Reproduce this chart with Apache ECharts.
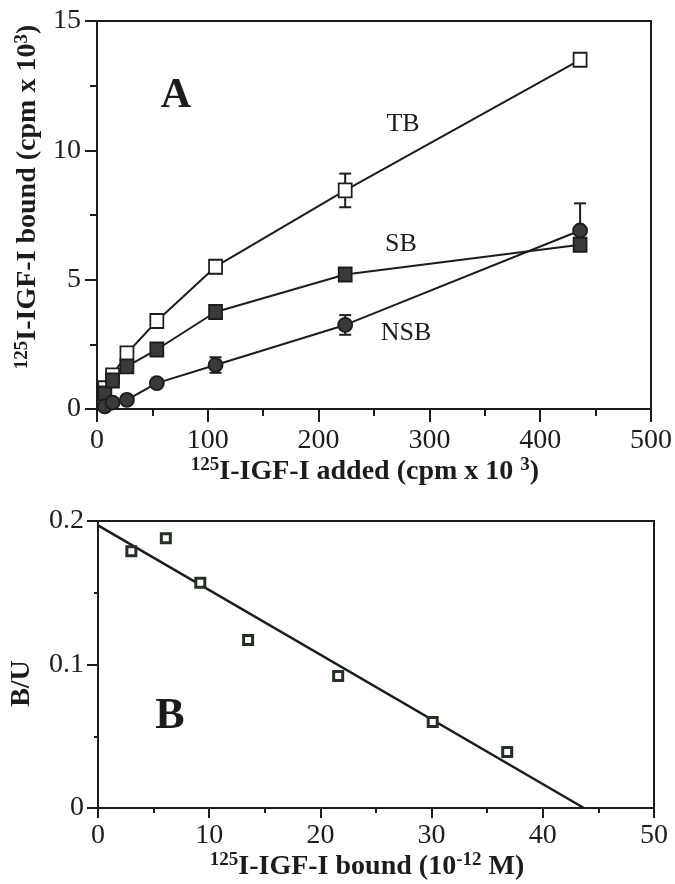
<!DOCTYPE html>
<html>
<head>
<meta charset="utf-8">
<script src="https://cdn.jsdelivr.net/npm/echarts@6/dist/echarts.min.js"></script>
<style>
  html, body { margin: 0; padding: 0; background: #fff; }
  #chart { width: 675px; height: 884px; }
</style>
</head>
<body>
<div id="chart"></div>
<script>
// Panel A: binding vs amount added
const addedX = [7, 14, 27, 54, 107, 224, 436];
const tbBound = [0.8, 1.3, 2.15, 3.4, 5.5, 8.45, 13.5];
const sbBound = [0.6, 1.1, 1.65, 2.3, 3.75, 5.2, 6.35];
const nsbBound = [0.1, 0.25, 0.35, 1.0, 1.7, 3.25, 6.9];
const tbErr = [0, 0, 0, 0, 0, 0.65, 0];
const nsbErrUp = [0, 0, 0, 0, 0.3, 0.38, 1.05];
const nsbErrDown = [0, 0, 0, 0, 0.3, 0.38, 0.4];

// Panel B: Scatchard plot
const boundX = [3.0, 6.1, 9.2, 13.5, 21.6, 30.1, 36.8];
const ratioBU = [0.179, 0.188, 0.157, 0.117, 0.092, 0.060, 0.039];
const fitX = [0, 43.7];
const fitY = [0.197, 0];

const serif = '"Liberation Serif", "DejaVu Serif", serif';
const ink = '#1c1c1c';

const chart = echarts.init(document.getElementById('chart'), null, { renderer: 'canvas' });

function pairs(xs, ys) {
  return xs.map((x, i) => [x, ys[i]]);
}

function errorData(ys, up, down) {
  return addedX.map((x, i) => [x, ys[i], up[i], down[i]]);
}

function renderErrorBar(params, api) {
  const x = api.value(0);
  const y = api.value(1);
  const up = api.value(2);
  const dn = api.value(3);
  if (!up && !dn) return;
  const top = api.coord([x, y + up]);
  const bot = api.coord([x, y - dn]);
  const half = 6;
  const style = { stroke: ink, lineWidth: 2 };
  return {
    type: 'group',
    children: [
      { type: 'line', shape: { x1: top[0], y1: top[1], x2: bot[0], y2: bot[1] }, style },
      { type: 'line', shape: { x1: top[0] - half, y1: top[1], x2: top[0] + half, y2: top[1] }, style },
      { type: 'line', shape: { x1: bot[0] - half, y1: bot[1], x2: bot[0] + half, y2: bot[1] }, style },
    ],
  };
}

const tickLabel = { color: ink, fontFamily: serif, fontSize: 28 };
const nameStyle = {
  color: ink,
  fontFamily: serif,
  fontSize: 28,
  fontWeight: 'bold',
  rich: {
    sup: { fontFamily: serif, fontSize: 19, fontWeight: 'bold', color: ink, verticalAlign: 'top', padding: [0, 0, 12, 0] },
  },
};

function lineSeries(name, ys, symbol, fill) {
  return {
    name,
    type: 'line',
    xAxisIndex: 0,
    yAxisIndex: 0,
    data: pairs(addedX, ys),
    symbol,
    symbolSize: symbol === 'circle' ? 14 : [13, 14],
    showAllSymbol: true,
    lineStyle: { color: ink, width: 2 },
    itemStyle: { color: fill, borderColor: ink, borderWidth: 1.8 },
    z: 3,
  };
}

chart.setOption({
  animation: false,
  backgroundColor: '#fff',
  grid: [
    { left: 97, top: 21, width: 557, height: 388, show: true, borderColor: ink, borderWidth: 2 },
    { left: 97, top: 521, width: 557, height: 287, show: true, borderColor: ink, borderWidth: 2 },
  ],
  xAxis: [
    {
      gridIndex: 0,
      type: 'value',
      min: 0,
      max: 500,
      interval: 100,
      name: '{sup|125}I-IGF-I added (cpm x 10 {sup|3})',
      nameLocation: 'middle',
      nameGap: 45,
      nameTextStyle: Object.assign({}, nameStyle, { padding: [0, 18, 0, 0] }),
      axisLine: { lineStyle: { color: ink, width: 2 } },
      axisTick: { length: 13, lineStyle: { color: ink, width: 2 } },
      minorTick: { show: true, splitNumber: 2, length: 7, lineStyle: { color: ink, width: 2 } },
      axisLabel: Object.assign({ margin: 18 }, tickLabel),
      splitLine: { show: false },
    },
    {
      gridIndex: 1,
      type: 'value',
      min: 0,
      max: 50,
      interval: 10,
      name: '{sup|125}I-IGF-I bound (10{sup|-12} M)',
      nameLocation: 'middle',
      nameGap: 42,
      nameTextStyle: Object.assign({}, nameStyle, { padding: [0, 18, 0, 0] }),
      axisLine: { lineStyle: { color: ink, width: 2 } },
      axisTick: { length: 10, lineStyle: { color: ink, width: 2 } },
      minorTick: { show: true, splitNumber: 2, length: 5, lineStyle: { color: ink, width: 2 } },
      axisLabel: Object.assign({ margin: 14 }, tickLabel),
      splitLine: { show: false },
    },
  ],
  yAxis: [
    {
      gridIndex: 0,
      type: 'value',
      min: 0,
      max: 15,
      interval: 5,
      name: '{sup|125}I-IGF-I bound (cpm x 10{sup|3})',
      nameLocation: 'middle',
      nameGap: 52,
      nameRotate: 90,
      nameTextStyle: Object.assign({}, nameStyle, { padding: [0, 0, 0, 36] }),
      axisLine: { lineStyle: { color: ink, width: 2 } },
      axisTick: { length: 12, lineStyle: { color: ink, width: 2 } },
      minorTick: { show: true, splitNumber: 2, length: 7, lineStyle: { color: ink, width: 2 } },
      axisLabel: Object.assign({ margin: 16 }, tickLabel),
      splitLine: { show: false },
    },
    {
      gridIndex: 1,
      type: 'value',
      min: 0,
      max: 0.2,
      interval: 0.1,
      name: 'B/U',
      nameLocation: 'middle',
      nameGap: 62,
      nameRotate: 90,
      nameTextStyle: Object.assign({}, nameStyle, { padding: [0, 38, 0, 0] }),
      axisLine: { lineStyle: { color: ink, width: 2 } },
      axisTick: { length: 11, lineStyle: { color: ink, width: 2 } },
      minorTick: { show: true, splitNumber: 2, length: 4, lineStyle: { color: ink, width: 2 } },
      axisLabel: Object.assign({ margin: 14, formatter: (v) => (v === 0 ? '0' : v.toFixed(1)) }, tickLabel),
      splitLine: { show: false },
    },
  ],
  series: [
    {
      type: 'custom',
      xAxisIndex: 0,
      yAxisIndex: 0,
      data: errorData(tbBound, tbErr, tbErr),
      encode: { x: 0, y: 1 },
      renderItem: renderErrorBar,
      z: 2,
    },
    {
      type: 'custom',
      xAxisIndex: 0,
      yAxisIndex: 0,
      data: errorData(nsbBound, nsbErrUp, nsbErrDown),
      encode: { x: 0, y: 1 },
      renderItem: renderErrorBar,
      z: 2,
    },
    lineSeries('TB', tbBound, 'rect', '#ffffff'),
    lineSeries('SB', sbBound, 'rect', '#3a3a3a'),
    lineSeries('NSB', nsbBound, 'circle', '#3a3a3a'),
    {
      name: 'fit',
      type: 'line',
      xAxisIndex: 1,
      yAxisIndex: 1,
      data: pairs(fitX, fitY),
      symbol: 'none',
      lineStyle: { color: ink, width: 2.5 },
      z: 2,
    },
    {
      name: 'B/U',
      type: 'scatter',
      xAxisIndex: 1,
      yAxisIndex: 1,
      data: pairs(boundX, ratioBU),
      symbol: 'rect',
      symbolSize: 9,
      itemStyle: { color: '#ffffff', borderColor: '#263126', borderWidth: 3, opacity: 1 },
      z: 3,
    },
  ],
  graphic: [
    { type: 'text', x: 176, y: 96, style: { text: 'A', font: 'bold 42px ' + serif, fill: ink, align: 'center', verticalAlign: 'middle' } },
    { type: 'text', x: 403, y: 124, style: { text: 'TB', font: '26px ' + serif, fill: ink, align: 'center', verticalAlign: 'middle' } },
    { type: 'text', x: 401, y: 244, style: { text: 'SB', font: '26px ' + serif, fill: ink, align: 'center', verticalAlign: 'middle' } },
    { type: 'text', x: 406, y: 333, style: { text: 'NSB', font: '26px ' + serif, fill: ink, align: 'center', verticalAlign: 'middle' } },
    { type: 'text', x: 170, y: 717, style: { text: 'B', font: 'bold 44px ' + serif, fill: ink, align: 'center', verticalAlign: 'middle' } },
  ],
});
</script>
</body>
</html>
